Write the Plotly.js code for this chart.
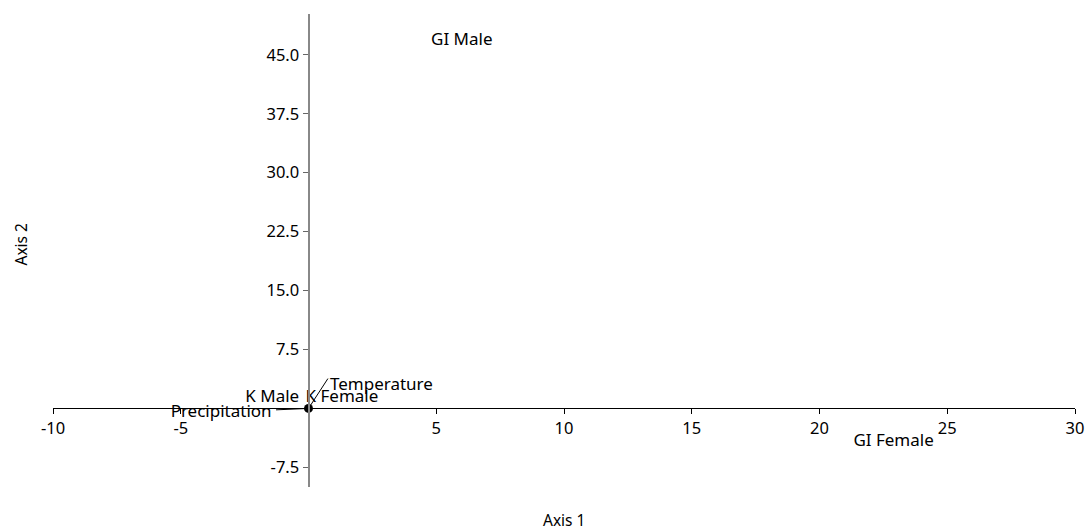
<!DOCTYPE html>
<html>
<head>
<meta charset="utf-8">
<script src="https://cdn.plot.ly/plotly-3.0.1.min.js"></script>
<style>html,body{margin:0;padding:0;background:#fff;}#chart{width:1087px;height:532px;}</style>
</head>
<body>
<div id="chart"></div>
<script>
// Label texts and their positions (data coordinates)
const labelText = ["GI Male", "GI Female", "Temperature", "K Male", "K Female", "Precipitation"];
const labelX = [6.0, 22.9, 0.84, -1.42, 1.31, -3.42];
const labelY = [46.8, -4.2, 2.9, 1.35, 1.35, -0.5];
const labelAnchor = ["middle center", "middle center", "middle right", "middle center", "middle center", "middle center"];

// Leader segments from the origin point to label
const segX0 = [0, 0];
const segY0 = [0, 0];
const segX1 = [0.76, -1.27];
const segY1 = [3.8, -0.18];

// Point at origin
const pointX = [0];
const pointY = [0];

// Tick values
const xTicks = [-10, -5, 5, 10, 15, 20, 25, 30];
const yTicks = [-7.5, 7.5, 15, 22.5, 30, 37.5, 45];

const xRange = [-10, 30];
const yRange = [-10, 50.2];

const traces = [];
for (let i = 0; i < segX0.length; i++) {
  traces.push({
    x: [segX0[i], segX1[i]], y: [segY0[i], segY1[i]],
    mode: 'lines', line: {color: '#000', width: 1}, hoverinfo: 'skip', showlegend: false
  });
}
traces.push({
  x: pointX, y: pointY, mode: 'markers',
  marker: {color: '#000', size: 9}, showlegend: false
});
const txt = labelText.map((t, i) => ({t, x: labelX[i], y: labelY[i], a: labelAnchor[i]}));
traces.push({
  x: txt.map(d => d.x), y: txt.map(d => d.y), text: txt.map(d => d.t),
  mode: 'text',
  textposition: txt.map(d => d.a),
  textfont: {family: 'Noto Sans, sans-serif', size: 17, color: '#000'},
  showlegend: false, hoverinfo: 'text'
});

const layout = {
  width: 1087, height: 532,
  margin: {l: 53, r: 12, t: 14, b: 45, pad: 0},
  paper_bgcolor: '#fff', plot_bgcolor: '#fff',
  font: {family: 'Noto Sans, sans-serif', size: 16, color: '#000'},
  showlegend: false,
  xaxis: {
    range: xRange, tickvals: xTicks, ticktext: xTicks.map(v => String(v)),
    showgrid: false, zeroline: false, showline: true, linecolor: '#000', linewidth: 1,
    ticks: 'outside', ticklen: 5, tickcolor: '#000',
    anchor: 'free', position: (0 - yRange[0]) / (yRange[1] - yRange[0]),
    tickfont: {size: 16.5}
  },
  yaxis: {
    range: yRange, tickvals: yTicks, ticktext: yTicks.map(v => v.toFixed(1)),
    showgrid: false, zeroline: false, showline: true, linecolor: '#888', linewidth: 2,
    ticks: 'outside', ticklen: 5, tickcolor: '#666',
    anchor: 'free', position: (0 - xRange[0]) / (xRange[1] - xRange[0]),
    tickfont: {size: 16.5}
  },
  annotations: [
    {text: 'Axis 1', xref: 'paper', yref: 'paper', x: 0.5, y: 0, yshift: -33, xanchor: 'center', yanchor: 'middle',
     showarrow: false, font: {size: 15.5}},
    {text: 'Axis 2', xref: 'paper', yref: 'paper', x: 0, xshift: -33, y: 0.5, yshift: 6, xanchor: 'center', yanchor: 'middle',
     textangle: -90, showarrow: false, font: {size: 15.5}}
  ]
};

Plotly.newPlot('chart', traces, layout, {displayModeBar: false, staticPlot: true});
</script>
</body>
</html>
